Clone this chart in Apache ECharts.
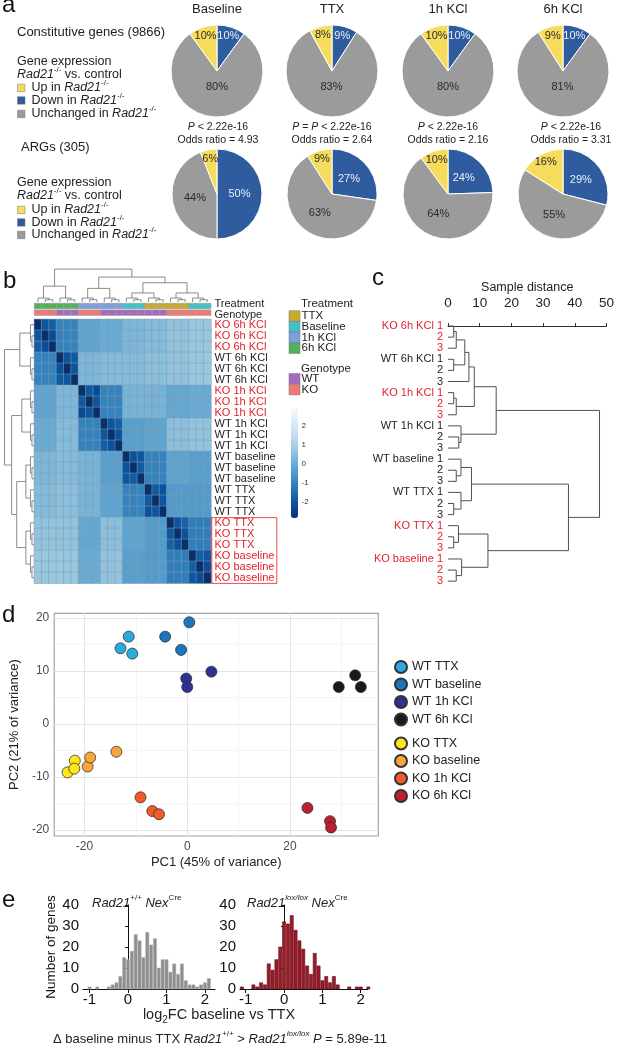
<!DOCTYPE html>
<html><head><meta charset="utf-8">
<script src="https://cdn.jsdelivr.net/npm/echarts@6/dist/echarts.min.js"></script>
<style>html,body{margin:0;padding:0;background:#fff}#c{width:617px;height:1045px}</style>
</head><body><div id="c"></div>
<script>
// ================= DATA =================
// Panel a
const pieColumns = ['Baseline', 'TTX', '1h KCl', '6h KCl'];
const pieCategories = ['Down in Rad21-/-', 'Unchanged in Rad21-/-', 'Up in Rad21-/-'];
const constitutiveDown = [10, 9, 10, 10];
const constitutiveUnchanged = [80, 83, 80, 81];
const constitutiveUp = [10, 8, 10, 9];
const argDown = [50, 27, 24, 29];
const argUnchanged = [44, 63, 64, 55];
const argUp = [6, 9, 10, 16];
const pValueTexts = ['P < 2.22e-16', 'P = P < 2.22e-16', 'P < 2.22e-16', 'P < 2.22e-16'];
const oddsRatios = ['4.93', '2.64', '2.16', '3.31'];

// Panel b / c
const sampleGroups = ['KO 6h KCl', 'WT 6h KCl', 'KO 1h KCl', 'WT 1h KCl', 'WT baseline', 'WT TTX', 'KO TTX', 'KO baseline'];
const groupTreatment = ['6h KCl', '6h KCl', '1h KCl', '1h KCl', 'Baseline', 'TTX', 'TTX', 'Baseline'];
const groupGenotype = ['KO', 'WT', 'KO', 'WT', 'WT', 'WT', 'KO', 'KO'];
const treatmentLevels = ['TTX', 'Baseline', '1h KCl', '6h KCl'];
const genotypeLevels = ['WT', 'KO'];
// block (group x group) distances, colour-scale values
const groupDistances = [
  [null, -1.0, -0.2, 0.0, 0.3, 0.4, 0.6, 0.7],
  [-1.0, null, 0.3, 0.4, 0.4, 0.5, 0.6, 0.7],
  [-0.2, 0.3, null, -1.0, 0.2, 0.2, -0.1, 0.0],
  [0.0, 0.4, -1.0, null, -0.3, -0.2, 0.5, 0.6],
  [0.3, 0.4, 0.2, -0.3, null, -1.0, -0.2, -0.3],
  [0.4, 0.5, 0.2, -0.2, -1.0, null, -0.4, -0.4],
  [0.6, 0.6, -0.1, 0.5, -0.2, -0.4, null, -1.1],
  [0.7, 0.7, 0.0, 0.6, -0.3, -0.4, -1.1, null]
];
// replicate pairs within a group: (1,2), (1,3), (2,3)
const withinGroupDistances = [
  [-2.0, -1.8, -2.2], [-2.1, -1.9, -2.0], [-1.9, -2.2, -2.0], [-2.0, -1.8, -2.1],
  [-2.1, -2.0, -1.9], [-1.9, -2.1, -2.0], [-2.0, -1.7, -2.1], [-1.8, -2.0, -2.2]
];
const selfDistance = -2.84;
const colorbarTicks = [-2, -1, 0, 1, 2];

// dendrogram of panel b (pheatmap), merges [childA, childB, height]; leaves 0..23, node 24+k
const heatmapMerges = [
  [1, 2, 2], [0, 24, 3.5], [4, 5, 2], [3, 26, 3.5], [25, 27, 14],
  [7, 8, 2], [6, 29, 3.5], [10, 11, 2], [9, 31, 3.5], [30, 32, 12],
  [13, 14, 2], [12, 34, 3.5], [16, 17, 2], [15, 36, 3.5], [35, 37, 8],
  [19, 20, 2], [18, 39, 3.5], [22, 23, 2], [21, 41, 3.5], [40, 42, 8],
  [38, 43, 17], [33, 44, 22], [28, 45, 29]
];
// dendrogram of panel c (sample distance)
const sampleMerges = [
  [0, 1, 1.8], [24, 2, 2.6], [3, 4, 1.8], [25, 26, 5.3], [27, 5, 6.6],
  [6, 7, 1.8], [29, 8, 2.6], [28, 30, 8.3], [10, 11, 3.4], [9, 32, 4.1],
  [31, 33, 15.2], [13, 14, 2.6], [12, 35, 4.1], [16, 17, 1.8], [15, 37, 4.1],
  [36, 38, 7.4], [19, 20, 1.8], [18, 40, 3.3], [22, 23, 2.6], [21, 42, 4.3],
  [41, 43, 12.6], [39, 44, 38], [34, 45, 47.8]
];

// Panel d (PCA)
const pcaSeriesNames = ['WT TTX', 'WT baseline', 'WT 1h KCl', 'WT 6h KCl', 'KO TTX', 'KO baseline', 'KO 1h KCl', 'KO 6h KCl'];
const pc1 = [
  [-11.4, -13.0, -10.7], [-4.3, 0.4, -1.2], [-0.2, 0.0, 4.7], [29.5, 32.7, 33.8],
  [-23.3, -21.9, -22.0], [-19.4, -18.9, -13.8], [-9.1, -6.8, -5.5], [23.4, 27.8, 28.0]
];
const pc2 = [
  [16.5, 14.3, 13.3], [16.5, 19.2, 14.0], [8.6, 7.0, 9.9], [7.0, 9.2, 7.0],
  [-9.1, -6.9, -8.4], [-8.0, -6.3, -5.2], [-13.8, -16.4, -17.0], [-15.8, -18.3, -19.5]
];
const pcaMajorX = [-20, 0, 20], pcaMinorX = [-10, 10, 30];
const pcaMajorY = [-20, -10, 0, 10, 20], pcaMinorY = [-15, -5, 5, 15];

// Panel e (histograms)
const histBinWidth = 0.1;
const wtBinCenters = [-1.0,-0.9,-0.8,-0.7,-0.6,-0.5,-0.4,-0.3,-0.2,-0.1,0.0,0.1,0.2,0.3,0.4,0.5,0.6,0.7,0.8,0.9,1.0,1.1,1.2,1.3,1.4,1.5,1.6,1.7,1.8,1.9,2.0,2.1];
const wtCounts =     [1,   0,   1,   0,   0,   1,   2,   3,   6,   15,  14, 18, 26, 23, 15, 27, 21, 24, 10, 14, 14, 8,  12, 7,  12, 4,  2,  2,  1,  2,  3,  5];
const koBinCenters = [-1.1,-1.0,-0.9,-0.8,-0.7,-0.6,-0.5,-0.4,-0.3,-0.2,-0.1,0.0,0.1,0.2,0.3,0.4,0.5,0.6,0.7,0.8,0.9,1.0,1.1,1.2,1.3,1.4,1.5,1.6,1.7,1.8,1.9,2.0,2.1,2.2];
const koCounts =     [1,   0,   0,   2,   1,   3,   2,   12,  9,   14,  20,  32, 31, 35, 28, 23, 19, 11, 7,  17, 11, 4,  6,  3,  6,  2,  0,  0,  1,  0,  1,  1,  0,  1];
const histXTicks = [-1, 0, 1, 2];

// ================= STYLE =================
const FF = '"Liberation Sans", Arial, Helvetica, sans-serif';
const RED = '#e0222b';
const pieColors = ['#2e5c9f', '#9b9b9b', '#f6dc5c'];
const pieLabelColors = ['#e8eefa', '#2a2a2a', '#2a2a2a'];
const treatmentColors = {'TTX': '#c9aa2f', 'Baseline': '#3fc3c9', '1h KCl': '#7c9fe0', '6h KCl': '#52b05a'};
const genotypeColors = {'WT': '#a56bbf', 'KO': '#ef7a74'};
const pcaColors = ['#29abe2', '#1c74bc', '#2e3192', '#1a1a1a', '#ffe51a', '#f8a63a', '#f15a29', '#be1e2d'];
const heatColors = ['#08306b', '#08519c', '#2171b5', '#4292c6', '#6baed6', '#9ecae1', '#c6dbef', '#deebf7', '#f7fbff'];

// ================= HELPERS =================
function rich(size, color) {
  const lh = Math.round(size * 1.4);
  const sup = Math.round(size * 0.62);
  return {
    i: {fontSize: size, fontFamily: FF, fontStyle: 'italic', fill: color, color: color, lineHeight: lh},
    n: {fontSize: size, fontFamily: FF, fill: color, color: color, lineHeight: lh},
    s: {fontSize: sup, fontFamily: FF, fill: color, color: color, verticalAlign: 'top', lineHeight: sup + 1},
    si: {fontSize: sup, fontFamily: FF, fontStyle: 'italic', fill: color, color: color, verticalAlign: 'top', lineHeight: sup + 1},
    b: {fontSize: sup + 1, fontFamily: FF, fill: color, color: color, verticalAlign: 'bottom', lineHeight: sup + 2}
  };
}
function txt(x, y, text, o) {
  o = o || {};
  const size = o.size || 12.5, color = o.color || '#222';
  return {type: 'text', x: x, y: y, silent: true, rotation: o.rotation || 0, z: 50,
    style: {text: text, fontSize: size, fontFamily: FF, fill: color, align: o.align || 'left',
      verticalAlign: 'middle', lineHeight: Math.round(size * 1.4), rich: rich(size, color)}};
}
function rect(x, y, w, h, fill) {
  return {type: 'rect', silent: true, z: 50, shape: {x: x, y: y, width: w, height: h}, style: {fill: fill, stroke: '#777', lineWidth: 0.5}};
}
function italicP(s) { return s.replace(/P/g, '{i|P}'); }

function dendroData(merges, n) {
  const pos = [], ht = [];
  for (let i = 0; i < n; i++) { pos[i] = i; ht[i] = 0; }
  return merges.map(function (m, k) {
    const a = m[0], b = m[1], h = m[2], id = n + k;
    pos[id] = (pos[a] + pos[b]) / 2; ht[id] = h;
    return [pos[a], ht[a], pos[b], ht[b], h];
  });
}
function dendroSeries(merges, n, horizontal, xi, yi, color, width) {
  return {type: 'custom', xAxisIndex: xi, yAxisIndex: yi, silent: true, z: 5, clip: false,
    data: dendroData(merges, n),
    renderItem: function (params, api) {
      const pa = api.value(0), ha = api.value(1), pb = api.value(2), hb = api.value(3), h = api.value(4);
      const P = function (p, hh) { return horizontal ? api.coord([hh, p]) : api.coord([p, hh]); };
      return {type: 'polyline', shape: {points: [P(pa, ha), P(pa, h), P(pb, h), P(pb, hb)]},
        style: {stroke: color, lineWidth: width, fill: null}};
    }};
}
function makePie(down, unch, up, cx, cy, r) {
  const vals = [down, unch, up];
  const total = vals.reduce(function (a, b) { return a + b; }, 0);
  const mids = []; let cum = 0;
  vals.forEach(function (v) { mids.push((cum + v / 2) / total * 2 * Math.PI); cum += v; });
  return {type: 'pie', center: [cx, cy], radius: r, startAngle: 90, clockwise: true, silent: true,
    label: {show: true, position: 'inside', formatter: '{c}%', fontSize: 11, fontFamily: FF},
    labelLine: {show: false}, emphasis: {disabled: true},
    itemStyle: {borderColor: '#fff', borderWidth: 1},
    data: vals.map(function (v, i) {
      return {value: v, name: pieCategories[i], itemStyle: {color: pieColors[i]}, label: {color: pieLabelColors[i]}};
    }),
    labelLayout: function (p) {
      const v = vals[p.dataIndex], m = mids[p.dataIndex];
      const f = v >= 70 ? 0.35 : (v >= 20 ? 0.5 : 0.8);
      return {x: cx + f * r * Math.sin(m), y: cy - f * r * Math.cos(m), align: 'center', verticalAlign: 'middle'};
    }};
}
function histSeries(centers, counts, xi, yi, fill, stroke) {
  return {type: 'custom', xAxisIndex: xi, yAxisIndex: yi, silent: true,
    data: centers.map(function (c, i) { return [c, counts[i]]; }),
    renderItem: function (params, api) {
      const c = api.value(0), v = api.value(1);
      if (!v) return null;
      const p0 = api.coord([c - histBinWidth / 2, 0]), p1 = api.coord([c + histBinWidth / 2, v]);
      return {type: 'rect', shape: {x: p0[0] + 0.3, y: p1[1], width: p1[0] - p0[0] - 0.6, height: p0[1] - p1[1]},
        style: {fill: fill, stroke: stroke, lineWidth: 0.5}};
    }};
}

// ================= BUILD =================
const nLeaves = sampleGroups.length * 3;
const rowLabels = [], leafLabels = [], leafIsKO = [], annotData = [], annotFill = [];
for (let i = 0; i < nLeaves; i++) {
  const g = Math.floor(i / 3), r = i % 3;
  rowLabels.push(sampleGroups[g]);
  leafLabels.push(r === 0 ? sampleGroups[g] + ' 1' : String(r + 1));
  leafIsKO.push(groupGenotype[g] === 'KO');
  annotData.push([i, 0]); annotFill.push(treatmentColors[groupTreatment[g]]);
}
for (let i = 0; i < nLeaves; i++) {
  annotData.push([i, 1]); annotFill.push(genotypeColors[groupGenotype[Math.floor(i / 3)]]);
}
const heatData = [];
for (let i = 0; i < nLeaves; i++) {
  for (let j = 0; j < nLeaves; j++) {
    const gi = Math.floor(i / 3), gj = Math.floor(j / 3);
    let v;
    if (i === j) v = selfDistance;
    else if (gi === gj) {
      const a = Math.min(i % 3, j % 3), b = Math.max(i % 3, j % 3);
      v = withinGroupDistances[gi][a === 0 ? (b === 1 ? 0 : 1) : 2];
    } else v = groupDistances[gi][gj];
    heatData.push([j, i, v]);
  }
}

const hide = {show: false};
const graphics = [];
// --- panel letters
graphics.push(txt(2, 5, 'a', {size: 24, color: '#111'}));
graphics.push(txt(3, 281, 'b', {size: 24, color: '#111'}));
graphics.push(txt(372, 278, 'c', {size: 24, color: '#111'}));
graphics.push(txt(2, 615, 'd', {size: 24, color: '#111'}));
graphics.push(txt(2, 900, 'e', {size: 24, color: '#111'}));
// --- panel a texts
const pieCx = [217, 332, 448, 563];
const pTextCx = [218, 332, 448, 571];
pieColumns.forEach(function (t, i) {
  graphics.push(txt(pieCx[i], 9.5, t, {size: 13, align: 'center'}));
  graphics.push(txt(pTextCx[i], 127, italicP(pValueTexts[i]), {size: 10.5, align: 'center'}));
  graphics.push(txt(pTextCx[i], 140, 'Odds ratio = ' + oddsRatios[i], {size: 10.5, align: 'center'}));
});
graphics.push(txt(17, 32, 'Constitutive genes (9866)', {size: 13}));
graphics.push(txt(21, 147, 'ARGs (305)', {size: 13}));
[[62, 75, 88, 100.5, 114], [183, 195.5, 210, 222.5, 235]].forEach(function (ys) {
  graphics.push(txt(17, ys[0], 'Gene expression', {size: 12.5}));
  graphics.push(txt(17, ys[1], '{i|Rad21}{s|-/-} vs. control', {size: 12.5}));
  graphics.push(rect(17.5, ys[2] - 3.8, 7.5, 7.5, pieColors[2]));
  graphics.push(txt(31.5, ys[2], 'Up in {i|Rad21}{s|-/-}', {size: 12.5}));
  graphics.push(rect(17.5, ys[3] - 3.8, 7.5, 7.5, pieColors[0]));
  graphics.push(txt(31.5, ys[3], 'Down in {i|Rad21}{s|-/-}', {size: 12.5}));
  graphics.push(rect(17.5, ys[4] - 3.8, 7.5, 7.5, pieColors[1]));
  graphics.push(txt(31.5, ys[4], 'Unchanged in {i|Rad21}{s|-/-}', {size: 12.5}));
});
// --- panel b annotation row names and legend
graphics.push(txt(214.5, 303.5, 'Treatment', {size: 11}));
graphics.push(txt(214.5, 314.5, 'Genotype', {size: 11}));
graphics.push(txt(301, 303.5, 'Treatment', {size: 11.5}));
treatmentLevels.forEach(function (t, i) {
  graphics.push(rect(289, 310.7 + i * 10.7, 11, 10.7, treatmentColors[t]));
  graphics.push(txt(301.5, 316 + i * 10.7, t, {size: 11.5}));
});
graphics.push(txt(301, 368.5, 'Genotype', {size: 11.5}));
genotypeLevels.forEach(function (t, i) {
  graphics.push(rect(289, 373.5 + i * 10.7, 11, 10.7, genotypeColors[t]));
  graphics.push(txt(301.5, 379 + i * 10.7, t, {size: 11.5}));
});
graphics.push({type: 'rect', silent: true, z: 50, shape: {x: 211.8, y: 517.6, width: 65, height: 65.8},
  style: {fill: null, stroke: RED, lineWidth: 0.8}});
// --- panel e texts
graphics.push(txt(92, 903, '{i|Rad21}{s|+/+} {i|Nex}{s|Cre}', {size: 13}));
graphics.push(txt(247, 903, '{i|Rad21}{si|lox/lox} {i|Nex}{s|Cre}', {size: 13}));
graphics.push(txt(219, 1015, 'log{b|2}FC baseline vs TTX', {size: 14.5, align: 'center'}));
graphics.push(txt(53, 1039, '\u0394 baseline minus TTX {i|Rad21}{s|+/+} > {i|Rad21}{si|lox/lox} {i|P} = 5.89e-11', {size: 13}));

// --- series
const series = [];
series.push({type: 'heatmap', xAxisIndex: 0, yAxisIndex: 0, data: heatData, silent: true,
  itemStyle: {borderColor: '#8d99a6', borderWidth: 0.5}, emphasis: {disabled: true}});
series.push({type: 'custom', xAxisIndex: 1, yAxisIndex: 1, silent: true, data: annotData,
  renderItem: function (params, api) {
    const c = api.coord([api.value(0), api.value(1)]);
    const s = api.size([1, 1]);
    return {type: 'rect', shape: {x: c[0] - s[0] / 2, y: c[1] - 2.8, width: s[0], height: 5.6},
      style: {fill: annotFill[params.dataIndex], stroke: '#9a9a9a', lineWidth: 0.5}};
  }});
series.push(dendroSeries(heatmapMerges, nLeaves, false, 2, 2, '#6f6f6f', 0.8));
series.push(dendroSeries(heatmapMerges, nLeaves, true, 3, 3, '#6f6f6f', 0.8));
series.push(dendroSeries(sampleMerges, nLeaves, true, 5, 6, '#505050', 1));
// PCA grid lines via markLine
const gl = [];
pcaMajorX.forEach(function (v) { gl.push({xAxis: v, lineStyle: {color: '#e4e4e4', width: 1.1, type: 'solid'}}); });
pcaMinorX.forEach(function (v) { gl.push({xAxis: v, lineStyle: {color: '#f1f1f1', width: 0.7, type: 'solid'}}); });
pcaMajorY.forEach(function (v) { gl.push({yAxis: v, lineStyle: {color: '#e4e4e4', width: 1.1, type: 'solid'}}); });
pcaMinorY.forEach(function (v) { gl.push({yAxis: v, lineStyle: {color: '#f1f1f1', width: 0.7, type: 'solid'}}); });
series.push({type: 'scatter', name: '_grid', xAxisIndex: 6, yAxisIndex: 7, data: [[0, 0]], symbolSize: 0, silent: true, z: 1,
  markLine: {silent: true, z: 1, symbol: 'none', label: {show: false}, animation: false, data: gl}});
pcaSeriesNames.forEach(function (name, k) {
  series.push({type: 'scatter', name: name, xAxisIndex: 6, yAxisIndex: 7, z: 10, silent: true,
    symbol: 'circle', symbolSize: 11,
    itemStyle: {color: pcaColors[k], borderColor: '#333', borderWidth: 0.8, opacity: 1},
    data: pc1[k].map(function (x, i) { return [x, pc2[k][i]]; })});
});
series.push(histSeries(wtBinCenters, wtCounts, 7, 8, '#8e8e8e', '#b5b5b5'));
series.push(histSeries(koBinCenters, koCounts, 8, 9, '#9a1b28', '#5e0d14'));
// pies
pieColumns.forEach(function (c, i) {
  series.push(makePie(constitutiveDown[i], constitutiveUnchanged[i], constitutiveUp[i], pieCx[i], 71, 46));
  series.push(makePie(argDown[i], argUnchanged[i], argUp[i], pieCx[i], 194, 45));
});

const option = {
  animation: false,
  backgroundColor: '#fff',
  textStyle: {fontFamily: FF},
  grid: [
    {left: 34.3, top: 319.3, width: 176.7, height: 264},   // 0 heatmap
    {left: 34.3, top: 302.7, width: 176.7, height: 13.3},  // 1 annotation
    {left: 34.3, top: 268, width: 176.7, height: 34},      // 2 top dendro
    {left: 3.5, top: 319.3, width: 30.5, height: 264},     // 3 left dendro
    {left: 291, top: 408, width: 7, height: 110},          // 4 colorbar axis
    {left: 448, top: 320.5, width: 166, height: 266.2},    // 5 panel c
    {left: 39.3, top: 613.3, width: 339, height: 222.7, show: true, borderColor: '#a3a3a3', borderWidth: 1.2, backgroundColor: '#fff'}, // 6 PCA
    {left: 83, top: 905, width: 132, height: 84},          // 7 hist left
    {left: 240, top: 905, width: 128, height: 84}          // 8 hist right
  ],
  xAxis: [
    {type: 'category', gridIndex: 0, data: rowLabels.map(function (s, i) { return 'c' + i; }), show: false},
    {type: 'category', gridIndex: 1, data: rowLabels.map(function (s, i) { return 'c' + i; }), show: false},
    {type: 'value', gridIndex: 2, min: -0.5, max: 23.5, show: false},
    {type: 'value', gridIndex: 3, min: 0, max: 30, inverse: true, show: false},
    {type: 'value', gridIndex: 4, show: false},
    {type: 'value', gridIndex: 5, min: 0, max: 50, interval: 10, position: 'top', offset: 5.5,
      axisLine: {show: true, lineStyle: {color: '#333', width: 1}},
      axisTick: {show: true, length: 3, lineStyle: {color: '#333'}},
      axisLabel: {fontSize: 13.5, color: '#222', margin: 5, fontFamily: FF},
      splitLine: {show: false},
      name: 'Sample distance', nameLocation: 'middle', nameGap: 21,
      nameTextStyle: {fontSize: 12.5, color: '#222', fontFamily: FF}},
    {type: 'value', gridIndex: 6, min: -25.9, max: 37.2,
      axisLine: {show: false}, splitLine: {show: false},
      axisTick: {show: true, length: 3, customValues: [-20, 0, 20], lineStyle: {color: '#444'}},
      axisLabel: {customValues: [-20, 0, 20], fontSize: 12, color: '#4d4d4d', margin: 5, fontFamily: FF},
      name: 'PC1 (45% of variance)', nameLocation: 'middle', nameGap: 20,
      nameTextStyle: {fontSize: 13, color: '#222', fontFamily: FF}},
    {type: 'value', gridIndex: 7, min: -1.17, max: 2.26,
      axisLine: {show: true, onZero: false, lineStyle: {color: '#111', width: 1}},
      axisTick: {show: true, length: 4, customValues: histXTicks, lineStyle: {color: '#111'}},
      axisLabel: {customValues: histXTicks, fontSize: 15, color: '#111', margin: 3, fontFamily: FF},
      splitLine: {show: false}},
    {type: 'value', gridIndex: 8, min: -1.15, max: 2.19,
      axisLine: {show: true, onZero: false, lineStyle: {color: '#111', width: 1}},
      axisTick: {show: true, length: 4, customValues: histXTicks, lineStyle: {color: '#111'}},
      axisLabel: {customValues: histXTicks, fontSize: 15, color: '#111', margin: 3, fontFamily: FF},
      splitLine: {show: false}}
  ],
  yAxis: [
    {type: 'category', gridIndex: 0, data: rowLabels, inverse: true, position: 'right',
      axisLine: hide, axisTick: hide, splitLine: hide,
      axisLabel: {interval: 0, fontSize: 11, margin: 3.5, fontFamily: FF,
        color: function (v, i) { return leafIsKO[i] ? RED : '#222'; }}},
    {type: 'category', gridIndex: 1, data: ['Treatment', 'Genotype'], inverse: true, position: 'right',
      axisLine: hide, axisTick: hide, splitLine: hide, axisLabel: hide},
    {type: 'value', gridIndex: 2, min: 0, max: 30, show: false},
    {type: 'value', gridIndex: 3, min: -0.5, max: 23.5, inverse: true, show: false},
    {type: 'value', gridIndex: 4, min: -2.84, max: 2.95, position: 'right',
      axisLine: hide, axisTick: hide, splitLine: hide,
      axisLabel: {customValues: colorbarTicks, fontSize: 8, color: '#333', margin: 3.5, fontFamily: FF}},
    {type: 'category', gridIndex: 5, data: leafLabels, inverse: true,
      axisLine: hide, axisTick: hide, splitLine: hide,
      axisLabel: {interval: 0, fontSize: 11, margin: 5, fontFamily: FF,
        color: function (v, i) { return leafIsKO[i] ? RED : '#222'; }}},
    {type: 'value', gridIndex: 5, min: -0.5, max: 23.5, inverse: true, show: false},
    {type: 'value', gridIndex: 6, min: -21.1, max: 20.9,
      axisLine: {show: false}, splitLine: {show: false},
      axisTick: {show: true, length: 3, customValues: [-20, -10, 0, 10, 20], lineStyle: {color: '#444'}},
      axisLabel: {customValues: [-20, -10, 0, 10, 20], fontSize: 12, color: '#4d4d4d', margin: 5, fontFamily: FF},
      name: 'PC2 (21% of variance)', nameLocation: 'middle', nameGap: 23,
      nameTextStyle: {fontSize: 13, color: '#222', fontFamily: FF}},
    {type: 'value', gridIndex: 7, min: 0, max: 40, interval: 10,
      axisLine: {show: true, lineStyle: {color: '#111', width: 1}},
      axisTick: {show: true, length: 3, lineStyle: {color: '#111'}},
      axisLabel: {fontSize: 15, color: '#111', margin: 4, fontFamily: FF},
      splitLine: {show: false},
      name: 'Number of genes', nameLocation: 'middle', nameGap: 19,
      nameTextStyle: {fontSize: 13.5, color: '#111', fontFamily: FF}},
    {type: 'value', gridIndex: 8, min: 0, max: 40, interval: 10,
      axisLine: {show: true, lineStyle: {color: '#111', width: 1}},
      axisTick: {show: true, length: 3, lineStyle: {color: '#111'}},
      axisLabel: {fontSize: 15, color: '#111', margin: 4, fontFamily: FF},
      splitLine: {show: false}}
  ],
  visualMap: [{type: 'continuous', seriesIndex: 0, dimension: 2, min: -2.84, max: 2.95,
    calculable: false, hoverLink: false, show: true, left: 291, top: 408, itemWidth: 7, itemHeight: 110,
    padding: 0, text: null, inRange: {color: heatColors}}],
  legend: [
    {data: pcaSeriesNames.slice(0, 4), orient: 'vertical', left: 394, top: 660, itemWidth: 12, itemHeight: 12,
      itemGap: 3.5, padding: 0, icon: 'circle', selectedMode: false,
      textStyle: {fontSize: 12.5, color: '#222', fontFamily: FF}},
    {data: pcaSeriesNames.slice(4), orient: 'vertical', left: 394, top: 736.5, itemWidth: 12, itemHeight: 12,
      itemGap: 3.5, padding: 0, icon: 'circle', selectedMode: false,
      textStyle: {fontSize: 12.5, color: '#222', fontFamily: FF}}
  ],
  series: series,
  graphic: graphics
};
const chart = echarts.init(document.getElementById('c'), null, {renderer: 'canvas', width: 617, height: 1045});
chart.setOption(option);
</script>
</body></html>
